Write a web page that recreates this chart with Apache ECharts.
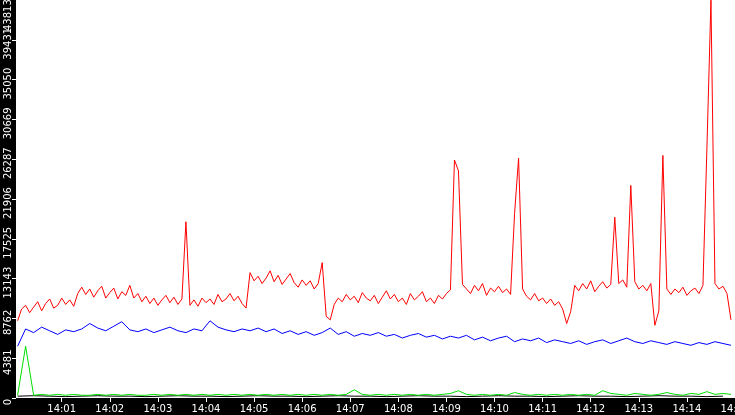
<!DOCTYPE html>
<html><head><meta charset="utf-8">
<script src="https://cdn.jsdelivr.net/npm/echarts@6/dist/echarts.min.js"></script>
<style>html,body{margin:0;padding:0;background:#000}#c{width:735px;height:415px}</style>
</head><body><div id="c"></div>
<script>
// values in thousands
const redK = [8.5,9.8,10.2,9.4,10.0,10.6,9.6,10.4,10.9,9.9,10.2,11.0,10.3,10.8,10.1,
11.5,12.2,11.4,12.0,11.1,11.8,12.3,11.0,11.6,12.1,10.9,11.7,11.3,12.4,11.0,11.5,10.6,11.2,10.4,11.0,10.2,10.8,11.3,10.5,11.1,10.3,10.9,
19.4,
10.2,10.8,10.1,11.0,10.5,10.9,10.3,11.4,10.6,10.9,11.5,10.7,11.2,10.4,9.9,
13.8,12.9,13.4,12.6,13.2,14.0,12.8,13.5,12.5,13.1,13.7,12.7,12.2,13.0,12.4,12.9,12.0,12.6,
14.9,9.0,8.6,
10.3,11.0,10.6,11.4,10.8,11.2,10.5,11.6,11.0,10.7,11.3,10.4,11.1,11.8,10.9,11.4,10.6,11.0,10.3,11.5,10.8,11.2,11.7,10.6,11.0,10.4,11.3,10.9,11.5,11.9,
26.2,25.0,12.5,
12.0,11.5,12.4,11.8,12.6,11.3,12.1,11.7,12.3,11.6,12.0,11.4,
20.3,26.4,12.0,
11.2,10.8,11.5,10.7,11.0,10.4,10.9,10.2,10.6,9.8,
8.2,9.5,
12.4,11.8,12.6,12.0,12.9,11.7,12.3,12.8,12.1,12.5,
19.9,12.6,13.0,12.2,23.4,12.8,12.0,12.4,11.8,12.6,8.0,9.6,26.7,12.0,
11.4,12.0,11.6,12.2,11.3,11.8,12.1,11.5,12.4,
27.6,43.8,
12.6,12.0,12.3,11.5,8.6];
const blueK = [5.7,7.6,7.2,7.8,7.4,7.0,7.5,
7.3,7.6,8.2,7.7,7.4,7.9,8.4,7.5,7.3,7.6,7.2,7.5,7.8,7.4,7.2,7.6,7.4,8.5,7.8,7.5,7.3,7.6,7.4,
7.7,7.3,7.6,7.1,7.4,7.0,7.3,6.9,7.2,7.7,7.0,7.3,6.8,7.1,6.9,7.2,6.8,7.0,6.6,6.9,7.1,6.7,6.9,6.5,6.8,6.6,
6.9,6.4,6.7,6.3,6.6,6.8,6.2,6.5,6.3,6.6,6.1,6.4,6.2,6.0,6.3,5.9,6.2,6.4,6.0,6.3,6.6,6.2,6.0,6.3,6.1,5.9,6.2,6.0,5.8,6.1,5.9,6.2,6.0,5.8];
const greenK = [0.3,5.7,0.3,0.4,0.3,0.4,0.3,0.4,0.3,0.3,0.4,0.3,0.4,0.3,0.4,0.3,0.3,0.4,0.3,0.4,
0.3,0.4,0.3,0.4,0.3,0.4,0.3,0.4,0.3,0.4,0.3,0.4,0.3,0.4,0.3,0.4,0.3,0.4,0.3,0.4,
0.3,0.4,0.9,0.4,0.3,0.4,0.3,0.4,0.3,0.4,0.3,0.4,0.3,0.4,0.5,0.8,0.4,0.3,0.4,0.3,
0.4,0.3,0.6,0.4,0.3,0.4,0.3,0.4,0.3,0.4,0.3,0.4,0.3,0.8,0.5,0.4,0.3,0.5,0.4,0.3,
0.4,0.6,0.4,0.3,0.5,0.4,0.7,0.4,0.5,0.4];
const blackK = [0.2,0.25,0.2,0.15,0.2,0.25,0.2,0.2,0.15,0.2,0.25,0.2,0.2,0.15,0.2,0.25,0.2,0.2,0.15,0.2,
0.25,0.2,0.2,0.15,0.2,0.25,0.2,0.2,0.15,0.2,0.25,0.2,0.2,0.15,0.2,0.25,0.2,0.2,0.15,0.2,0.25,0.2,0.2,0.15,0.2];
const yTicks = ['0','4381','8762','13143','17525','21906','26287','30669','35050','39431','43813'];

const t0 = new Date(2024,0,1,14,0,5).getTime();
const mk = (arr, step) => arr.map((v,i)=>[t0+i*step*1000, v*1000]);
const chart = echarts.init(document.getElementById('c'));
chart.setOption({
  backgroundColor:'#000',
  animation:false,
  grid:{left:16,right:0,top:0,bottom:17,show:true,backgroundColor:'#fff',borderWidth:0,outerBoundsMode:'none',containLabel:false},
  graphic:[{type:'text',x:8,y:31,rotation:Math.PI/2,z:100,
    style:{text:yTicks[10],fill:'#fff',font:'10px "DejaVu Sans"',align:'left',verticalAlign:'middle'}}],
  xAxis:{type:'time',min:new Date(2024,0,1,14,0,3).getTime(),max:new Date(2024,0,1,14,15,0).getTime(),
    interval:60000,minInterval:60000,maxInterval:60000,splitLine:{show:false},
    axisLine:{show:false},
    axisTick:{show:true,length:4,lineStyle:{color:'#fff'}},
    axisLabel:{color:'#fff',fontFamily:'DejaVu Sans',fontSize:10,margin:6,interval:0,showMaxLabel:true,hideOverlap:false,
      formatter:v=>{const d=new Date(v);return d.getHours()+':'+String(d.getMinutes()).padStart(2,'0');}}},
  yAxis:{type:'value',min:0,max:43813,interval:4381.3,splitLine:{show:false},
    axisLine:{show:false},axisTick:{show:true,length:4,lineStyle:{color:'#fff'}},
    axisLabel:{color:'#fff',fontFamily:'DejaVu Sans',fontSize:10,rotate:90,margin:3,showMaxLabel:false,hideOverlap:false,
      padding:[0,8,0,0],
      formatter:(v,i)=>i===10?'':yTicks[i]}},
  series:[
    {type:'line',data:mk(blackK,20),showSymbol:false,lineStyle:{color:'#000',width:1}},
    {type:'line',data:mk(greenK,10),showSymbol:false,lineStyle:{color:'#00e000',width:1}},
    {type:'line',data:mk(blueK,10),showSymbol:false,lineStyle:{color:'#0000ff',width:1}},
    {type:'line',data:mk(redK,5),showSymbol:false,lineStyle:{color:'#ff0000',width:1}}
  ]
});
</script></body></html>
